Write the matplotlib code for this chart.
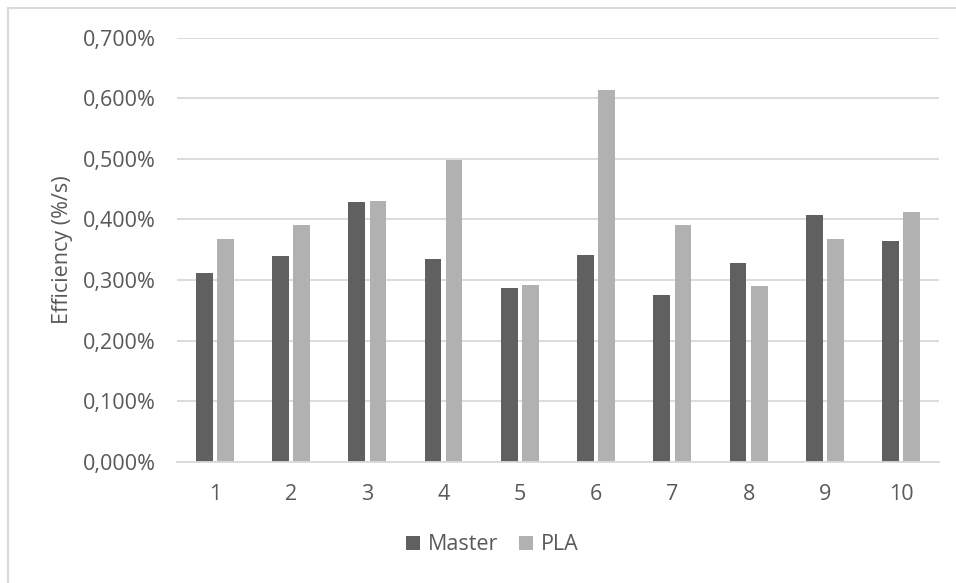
import numpy as np
from matplotlib import pyplot as plt
from matplotlib.ticker import FuncFormatter
from matplotlib.patches import Rectangle

plt.rcParams['font.family'] = ['Open Sans', 'DejaVu Sans']

# ---------------------------------------------------------
# data (efficiency in %/s)

categories = ['1', '2', '3', '4', '5', '6', '7', '8', '9', '10']
master = [0.311, 0.339, 0.429, 0.334, 0.286, 0.341, 0.275, 0.328, 0.407, 0.365]
pla = [0.367, 0.391, 0.431, 0.498, 0.292, 0.613, 0.391, 0.290, 0.367, 0.413]
yticks = [0.0, 0.1, 0.2, 0.3, 0.4, 0.5, 0.6, 0.7]

text_color = '#595959'
grid_color = '#d9d9d9'
fsize = 15.5

fig = plt.figure(figsize=(9.56, 5.83), dpi=100)
ax = fig.add_axes([0.1848, 0.208, 0.7977, 0.7273])

x = np.arange(len(categories))
width = 0.219
offset = 0.1385
ax.bar(x - offset, master, width, color='#606060', label='Master', zorder=3)
ax.bar(x + offset, pla, width, color='#b1b1b1', label='PLA', zorder=3)

ax.set_xlim(-0.5, len(categories) - 0.5)
ax.set_ylim(0, 0.7)
ax.set_yticks(yticks)
ax.yaxis.set_major_formatter(FuncFormatter(lambda v, _: f'{v:.3f}%'.replace('.', ',')))
ax.set_xticks(x)
ax.set_xticklabels(categories)

ax.grid(axis='y', color=grid_color, linewidth=1.3, zorder=0)
for side in ['top', 'right', 'left']:
    ax.spines[side].set_visible(False)
ax.spines['bottom'].set_color(grid_color)
ax.spines['bottom'].set_linewidth(1.3)
ax.spines['bottom'].set_zorder(4)

ax.tick_params(axis='both', length=0, labelsize=fsize, colors=text_color)
ax.tick_params(axis='y', pad=15)
ax.tick_params(axis='x', pad=16)

ax.set_ylabel('Efficiency (%/s)', fontsize=fsize, color=text_color)
ax.yaxis.set_label_coords(-0.136, 0.5)

fig.legend(loc='center', bbox_to_anchor=(0.515, 1 - 545 / 583), ncol=2, frameon=False,
           fontsize=fsize, labelcolor=text_color, handlelength=0.65, handleheight=0.65,
           handletextpad=0.35, columnspacing=1.0)

# chart border, like the spreadsheet frame
fig.patches.append(Rectangle((8 / 956, -0.1), 1.2, 1.1 - 8 / 583, transform=fig.transFigure,
                             fill=False, edgecolor=grid_color, linewidth=1.5))

fig.savefig('out.png', dpi=100)
